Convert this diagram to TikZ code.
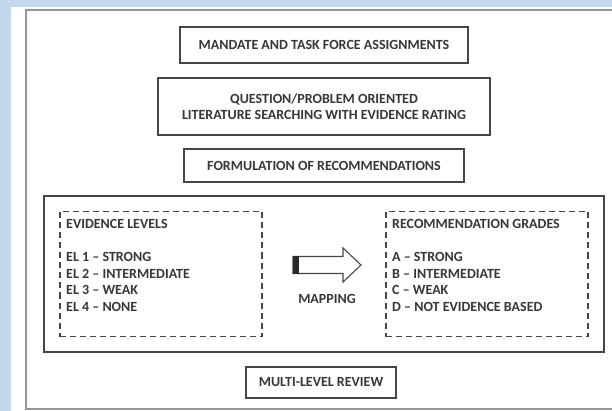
\documentclass[tikz,border=0pt]{standalone}
\usepackage{fontspec}
\setmainfont{Carlito}
\usetikzlibrary{positioning, calc}
\definecolor{pageblue}{RGB}{196,216,236}
\definecolor{framegray}{RGB}{150,150,150}
\definecolor{boxgray}{RGB}{70,70,70}
\definecolor{inkgray}{RGB}{55,55,55}
\tikzstyle{stage} = [rectangle, draw=boxgray, line width=1.4pt, text=inkgray, align=center, inner sep=0pt, outer sep=0pt, font=\bfseries\fontsize{14}{16}\selectfont]
\tikzstyle{levels} = [rectangle, draw=boxgray, line width=1.1pt, dash pattern=on 6pt off 4pt, minimum width=202pt, minimum height=125pt, inner sep=0pt, outer sep=0pt]
\tikzstyle{listing} = [anchor=north west, align=left, inner sep=0pt, text=inkgray, font=\bfseries\fontsize{14}{16.5}\selectfont]

\begin{document}
\begin{tikzpicture}[x=1pt, y=-1pt]
    \useasboundingbox (0,0) rectangle (612,411);
    % page and frame
    \fill[pageblue] (0,0) rectangle (612,411);
    \fill[white] (11,7) rectangle (612,411);
    \draw[framegray, line width=1.8pt] (640,10) -- (26,10) -- (26,409) -- (640,409);

    % main column
    \node (mandate) [stage, minimum width=288pt, minimum height=36pt] at (324,45) {MANDATE AND TASK FORCE ASSIGNMENTS};
    \node (question) [stage, minimum width=332pt, minimum height=57pt, below=15pt of mandate] {QUESTION/PROBLEM ORIENTED\\LITERATURE SEARCHING WITH EVIDENCE RATING};
    \node (formulation) [stage, minimum width=280pt, minimum height=33pt, below=14pt of question] {FORMULATION OF RECOMMENDATIONS};
    \node (mapframe) [stage, line width=1.6pt, minimum width=560pt, minimum height=156pt, below=14pt of formulation] {};
    \node (review) [stage, minimum width=150pt, minimum height=31pt, below=15pt of mapframe, xshift=-3pt] {MULTI-LEVEL REVIEW};

    % Evidence levels
    \node (evlevels) [levels, right=16pt of mapframe.west] {};
    \node (evlist) [listing] at ($(evlevels.north west)+(6,8)$) {EVIDENCE LEVELS\\[16.5pt]EL 1 -- STRONG\\EL 2 -- INTERMEDIATE\\EL 3 -- WEAK\\EL 4 -- NONE};

    % Recommendation grades
    \node (grades) [levels, left=16pt of mapframe.east] {};
    \node (gradelist) [listing] at ($(grades.north west)+(6,8)$) {RECOMMENDATION GRADES\\[16.5pt]A -- STRONG\\B -- INTERMEDIATE\\C -- WEAK\\D -- NOT EVIDENCE BASED};

    % Mapping arrow
    \coordinate (arrowtail) at (293,265);
    \draw[boxgray, line width=1.1pt, fill=white] (arrowtail) ++(0,-8.5) -- ++(50,0) -- ++(0,-8.5) -- ++(18,17) -- ++(-18,17) -- ++(0,-8.5) -- ++(-50,0) -- cycle;
    \fill[boxgray!60!black] (arrowtail) ++(0,-8.5) rectangle ++(6,17);
    \node (maplabel) [text=inkgray, font=\bfseries\fontsize{14}{16}\selectfont] at (327,299) {MAPPING};
\end{tikzpicture}
\end{document}
